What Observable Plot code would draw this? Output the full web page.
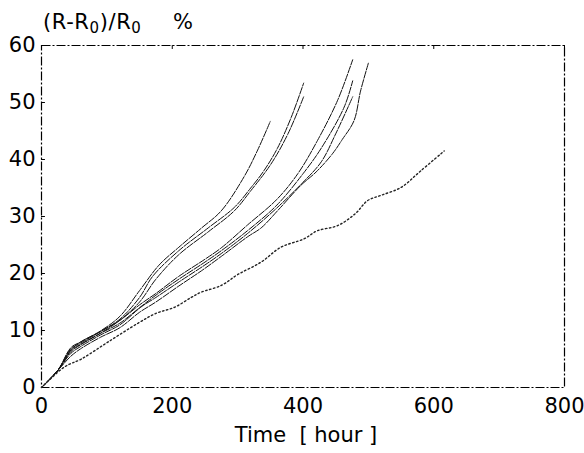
<!DOCTYPE html>
<html><head><meta charset="utf-8">
<script src="https://cdn.jsdelivr.net/npm/d3@7"></script>
<script src="https://cdn.jsdelivr.net/npm/@observablehq/plot@0.6"></script>
<style>body{margin:0;background:#fff} svg{display:block}</style>
</head><body><div id="chart"></div>
<script>
const xTicks = [0, 200, 400, 600, 800];
const yTicks = [0, 10, 20, 30, 40, 50, 60];

// [time (hour), (R-R0)/R0 (%)]
const curveA = [[0,0],[25,3],[45,6.6],[60,8],[90,9.9],[120,12.5],[150,17],[180,21.5],[210,24.6],[245,28],[275,31],[310,37],[330,41.5],[350,46.7]];
const curveB1 = [[0,0],[25,3],[45,6.8],[60,7.8],[90,9.8],[120,12],[150,15.8],[170,19.5],[210,24],[255,28],[295,31.6],[320,35],[340,38],[361,42],[382,47.4],[401,53.4]];
const curveB2 = [[0,0],[25,3],[45,6.3],[60,7.5],[90,9.5],[120,11.8],[150,15],[175,19],[210,23.3],[255,27.3],[295,31],[320,34.5],[351,39.2],[377,44.5],[401,51]];
const curveC1 = [[0,0],[25,3],[45,7],[60,8],[90,9.8],[120,11.8],[150,14.5],[175,16.5],[210,19.5],[250,22.5],[275,24.5],[315,28.5],[360,33],[392,37.5],[422,43.3],[453,50.4],[476,57.5]];
const curveC2 = [[0,0],[25,3],[45,6.5],[60,7.6],[90,9.5],[120,11.3],[150,14],[175,16.2],[210,19],[250,22],[275,24],[315,27.5],[360,32],[400,37.5],[428,42],[463,49.2],[476,53.8]];
const curveC3 = [[0,0],[25,3],[45,6],[60,7.2],[90,9.2],[120,11],[152,14.1],[175,15.8],[210,18.5],[250,21.5],[275,23.5],[315,27],[360,31.5],[400,36],[428,39.6],[450,44.5],[476,51]];
const curveC4 = [[0,0],[25,3],[45,5.5],[60,6.8],[90,8.8],[120,10.5],[150,13.2],[175,15],[210,17.8],[245,20.5],[275,23],[316,26.5],[336,28],[361,31],[397,35.5],[420,37.8],[445,41],[460,43.5],[478,46.8],[488,52],[500,56.9]];
const curveD = [[0,0],[35,3.6],[61,5],[102,8],[148,11.3],[175,13],[204,14.1],[229,15.8],[244,16.7],[275,17.9],[300,19.8],[336,22],[366,24.6],[402,26.1],[422,27.5],[453,28.4],[480,30.5],[499,32.8],[519,33.7],[550,35.1],[580,38],[616,41.5]];

const mainCurves = {A: curveA, B1: curveB1, B2: curveB2, C1: curveC1, C2: curveC2, C3: curveC3, C4: curveC4};
const rows = Object.entries(mainCurves).flatMap(([id, pts]) => pts.map(([t, v]) => ({id, t, v})));
const dRows = curveD.map(([t, v]) => ({id: "D", t, v}));

const font = "'DejaVu Sans', Arial, sans-serif";
const plot = Plot.plot({
  width: 584, height: 453,
  marginLeft: 41, marginRight: 20, marginTop: 45, marginBottom: 66,
  x: {domain: [0, 800], ticks: xTicks},
  y: {domain: [0, 60], ticks: yTicks},
  style: {fontFamily: font, fontSize: "21px", color: "#000", background: "#fff"},
  marks: [
    Plot.frame({stroke: "#000", strokeWidth: 1.2, strokeDasharray: "9,2,2,2"}),
    Plot.ruleY(yTicks, {x1: 0, x2: 6, stroke: "#000"}),
    Plot.ruleX(xTicks, {y1: 60, y2: 59.3, stroke: "#000"}),
    Plot.axisX({ticks: xTicks, tickSize: 0, tickPadding: 11, label: null}),
    Plot.axisY({ticks: yTicks, tickSize: 0, tickPadding: 6, label: null}),
    Plot.line(rows, {x: "t", y: "v", z: "id", stroke: "#111", strokeWidth: 1, curve: "catmull-rom", strokeDasharray: "7,1.5"}),
    Plot.line(dRows, {x: "t", y: "v", stroke: "#222", strokeWidth: 1.4, curve: "catmull-rom", strokeDasharray: "1.5,2.5"})
  ]
});
document.getElementById("chart").appendChild(plot);

const svg = d3.select(plot);
const title = svg.append("text").attr("x", 43).attr("y", 29).attr("text-anchor", "start")
  .attr("font-family", font).attr("font-size", 21).attr("letter-spacing", 0.6).attr("fill", "#000");
title.append("tspan").text("(R-R");
title.append("tspan").attr("font-size", 15).attr("dy", 4).text("0");
title.append("tspan").attr("dy", -4).text(")/R");
title.append("tspan").attr("font-size", 15).attr("dy", 4).text("0");
svg.append("text").attr("x", 173).attr("y", 29).attr("text-anchor", "start")
  .attr("font-family", font).attr("font-size", 21).attr("fill", "#000").text("%");

svg.append("text").attr("x", 306).attr("y", 442).attr("text-anchor", "middle")
  .attr("font-family", font).attr("font-size", 21).attr("fill", "#000")
  .attr("xml:space", "preserve").text("Time  [ hour ]");
</script>
</body></html>
